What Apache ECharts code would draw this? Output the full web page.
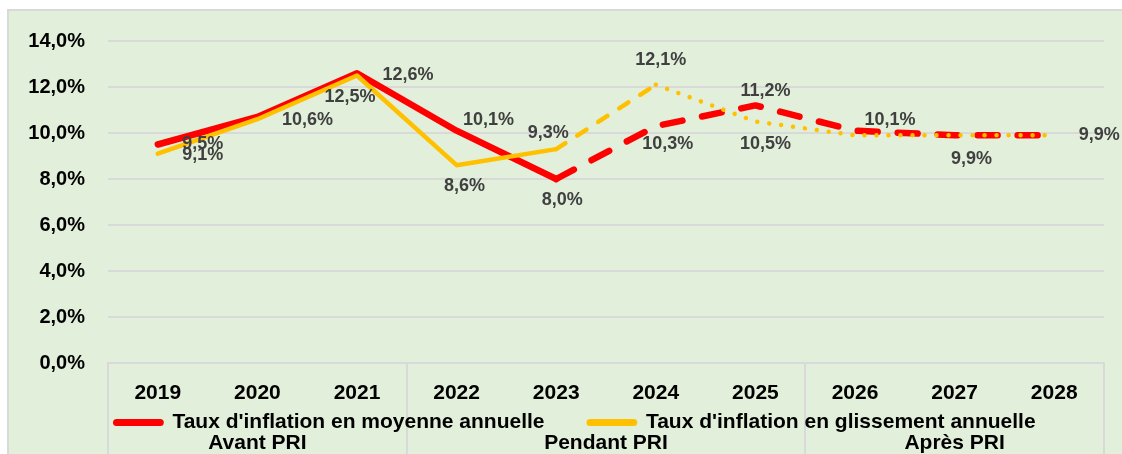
<!DOCTYPE html>
<html>
<head>
<meta charset="utf-8">
<title>Taux d'inflation</title>
<style>
  html, body { margin: 0; padding: 0; background: #ffffff; }
  #main { width: 1122px; height: 454px; }
</style>
</head>
<body>
<div id="main"></div>
<script src="https://cdn.jsdelivr.net/npm/echarts@6/dist/echarts.min.js"></script>
<script>
// données
const years = ['2019', '2020', '2021', '2022', '2023', '2024', '2025', '2026', '2027', '2028'];
const moyenne = [9.5, 10.7, 12.6, 10.1, 8.0, 10.3, 11.2, 10.1, 9.9, 9.9];     // moyenne annuelle
const glissement = [9.1, 10.6, 12.5, 8.6, 9.3, 12.1, 10.5, 9.9, 9.9, 9.9];   // glissement annuel
const groups = ['Avant PRI', 'Pendant PRI', 'Après PRI'];
const groupEdges = [0, 3, 7, 10];
const yMin = 0, yMax = 14, yStep = 2;

const nameMoy = "Taux d'inflation en moyenne annuelle";
const nameGli = "Taux d'inflation en glissement annuelle";
const FONT = 'Liberation Sans';

function pct(v) { return v.toFixed(1).replace('.', ',') + '%'; }

// décalage des étiquettes (centre du texte par rapport au point)
const offMoy = { 0: [45, 0], 2: [51, 2], 3: [32, -11], 4: [6, 21], 5: [12, 18], 6: [10, -14], 7: [35, -11] };
const offGli = { 0: [45, 1], 1: [50, 1], 2: [-7, 22], 3: [8, 21], 4: [-8, -16], 5: [5, -25], 6: [10, 23], 8: [17, 24], 9: [45, 0] };

// un morceau de courbe entre deux indices, avec les étiquettes de [labFrom, labTo]
function segment(values, from, to, labFrom, labTo, offsets) {
  return values.map(function (v, i) {
    if (i < from || i > to) return null;
    const off = offsets[i];
    const show = off && i >= labFrom && i <= labTo;
    return {
      value: v,
      label: show ? { show: true, position: 'inside', offset: off } : { show: false }
    };
  });
}

function lineSeries(name, data, color, width, type) {
  return {
    name: name,
    type: 'line',
    data: data,
    symbol: 'circle',
    symbolSize: 0.1,
    showSymbol: true,
    connectNulls: false,
    animation: false,
    itemStyle: { color: color },
    lineStyle: { color: color, width: width, type: type, cap: 'round', join: 'round' },
    emphasis: { disabled: true },
    label: {
      formatter: function (p) { return pct(p.value); },
      color: '#404040',
      fontFamily: FONT,
      fontWeight: 'bold',
      fontSize: 18,
      align: 'center',
      verticalAlign: 'middle'
    }
  };
}

const RED = '#FF0000', YEL = '#FFC000';
const mids = groupEdges.slice(0, -1).map(function (e, i) { return (e + groupEdges[i + 1]) / 2; });

const myChart = echarts.init(document.getElementById('main'), null, { renderer: 'canvas' });

const option = {
  backgroundColor: '#ffffff',
  animation: false,
  graphic: [{
    type: 'rect',
    z: -10,
    silent: true,
    shape: { x: 8, y: 10, width: 1200, height: 500 },
    style: { fill: '#E2EFDA', stroke: '#D9D9D9', lineWidth: 2 }
  }],
  grid: { left: 108, right: 18, top: 41, bottom: 91, containLabel: false },
  legend: {
    left: 108,
    top: 407,
    itemWidth: 58,
    itemHeight: 7,
    itemGap: 42,
    selectedMode: false,
    textStyle: { fontFamily: FONT, fontWeight: 'bold', fontSize: 21, color: '#000', lineHeight: 21 },
    data: [
      { name: nameMoy, icon: 'path://M4 0H54A4 4 0 0 1 54 8H4A4 4 0 0 1 4 0Z', itemStyle: { color: RED } },
      { name: nameGli, icon: 'path://M4 0H54A4 4 0 0 1 54 8H4A4 4 0 0 1 4 0Z', itemStyle: { color: YEL } }
    ]
  },
  xAxis: [{
    type: 'category',
    data: years,
    boundaryGap: true,
    axisLine: { show: true, lineStyle: { color: '#D9D9D9', width: 2 } },
    axisTick: { show: false },
    axisLabel: { fontFamily: FONT, fontWeight: 'bold', fontSize: 21, color: '#000', margin: 20, lineHeight: 21 },
    splitLine: { show: false }
  }, {
    type: 'value',
    min: groupEdges[0],
    max: groupEdges[groupEdges.length - 1],
    position: 'bottom',
    axisLine: { show: false },
    axisTick: { show: true, customValues: groupEdges, length: 91, lineStyle: { color: '#D9D9D9', width: 2 } },
    axisLabel: {
      show: true,
      customValues: mids,
      formatter: function (v) { return groups[mids.indexOf(v)] || ''; },
      fontFamily: FONT, fontWeight: 'bold', fontSize: 21, color: '#000', margin: 70, lineHeight: 21
    },
    splitLine: { show: false }
  }],
  yAxis: {
    type: 'value',
    min: yMin,
    max: yMax,
    interval: yStep,
    axisLine: { show: false },
    axisTick: { show: false },
    axisLabel: { formatter: pct, fontFamily: FONT, fontWeight: 'bold', fontSize: 20, color: '#000', margin: 23 },
    splitLine: { lineStyle: { color: '#D9D9D9', width: 2 } }
  },
  series: [
    lineSeries(nameMoy, segment(moyenne, 0, 4, 0, 4, offMoy), RED, 6.5, 'solid'),
    lineSeries(nameMoy, segment(moyenne, 4, 9, 5, 9, offMoy), RED, 6.5, [20, 20]),
    lineSeries(nameGli, segment(glissement, 0, 4, 0, 4, offGli), YEL, 4.5, 'solid'),
    lineSeries(nameGli, segment(glissement, 4, 5, 5, 5, offGli), YEL, 4.5, [11, 14]),
    lineSeries(nameGli, segment(glissement, 5, 9, 6, 9, offGli), YEL, 4.5, [0.01, 12])
  ]
};

myChart.setOption(option);
</script>
</body>
</html>
